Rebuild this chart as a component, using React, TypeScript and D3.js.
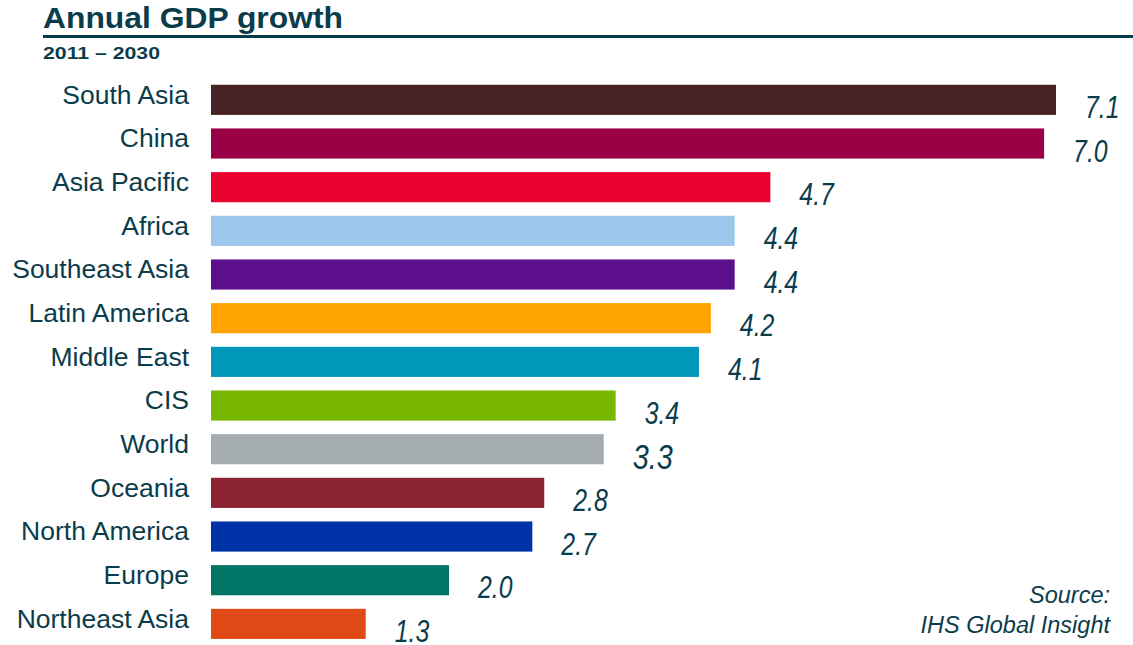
import React from 'react';
import * as d3 from 'd3';

const width = 1133;
const height = 645;

const REGIONS = [
  'South Asia', 'China', 'Asia Pacific', 'Africa', 'Southeast Asia', 'Latin America',
  'Middle East', 'CIS', 'World', 'Oceania', 'North America', 'Europe', 'Northeast Asia',
];
const GROWTH = [7.1, 7.0, 4.7, 4.4, 4.4, 4.2, 4.1, 3.4, 3.3, 2.8, 2.7, 2.0, 1.3];
const BAR_COLORS = [
  '#472326', '#990045', '#e8002f', '#9dc6ec', '#5b0f8a', '#ffa300',
  '#0097bb', '#78b800', '#a5acaf', '#8a2232', '#0033a8', '#007566', '#e04a16',
];

const textColor = '#0b3c4b';
const font = '"Liberation Sans", Arial, sans-serif';

const x = d3.scaleLinear()
  .domain([0, 7.1])
  .range([211, 1056]);

const y = d3.scaleBand()
  .domain(REGIONS)
  .range([78, 78 + 13 * 43.67])
  .paddingInner(0.31)
  .paddingOuter(0.155);

const App = () => {
  const rows = REGIONS.map((name, i) => ({ name, value: GROWTH[i], color: BAR_COLORS[i] }));

  return (
    <svg
      width={width}
      height={height}
      style={{ position: 'absolute', left: 0, top: 0, background: '#fff' }}
      fontFamily={font}
    >
      <text x={43} y={28} fontSize={30} fontWeight="bold" fill={textColor}
        textLength={300} lengthAdjust="spacingAndGlyphs">
        Annual GDP growth
      </text>
      <rect x={43} y={35} width={width - 43} height={3} fill="#063d4c" />
      <text x={43} y={59} fontSize={17} fontWeight="bold" fill={textColor}
        textLength={117} lengthAdjust="spacingAndGlyphs">
        2011 – 2030
      </text>

      {rows.map(d => {
        const top = y(d.name) as number;
        const big = d.name === 'World';
        const vx = x(d.value) + 29;
        const vy = top + y.bandwidth() + (big ? 5 : 3);
        return (
          <g key={d.name}>
            <text x={189} y={top + 19} fontSize={26.5} textAnchor="end" fill={textColor}>
              {d.name}
            </text>
            <rect x={x(0)} y={top} width={x(d.value) - x(0)} height={y.bandwidth()} fill={d.color} />
            <text
              transform={`translate(${vx},${vy}) scale(0.8,1)`}
              fontSize={big ? 36 : 31}
              fontStyle="italic"
              fill={textColor}
            >
              {d.value.toFixed(1)}
            </text>
          </g>
        );
      })}

      <text x={1110} y={603} fontSize={23.5} fontStyle="italic" textAnchor="end" fill={textColor}>
        Source:
      </text>
      <text x={1110} y={633} fontSize={23.5} fontStyle="italic" textAnchor="end" fill={textColor}>
        IHS Global Insight
      </text>
    </svg>
  );
};

export default App;
